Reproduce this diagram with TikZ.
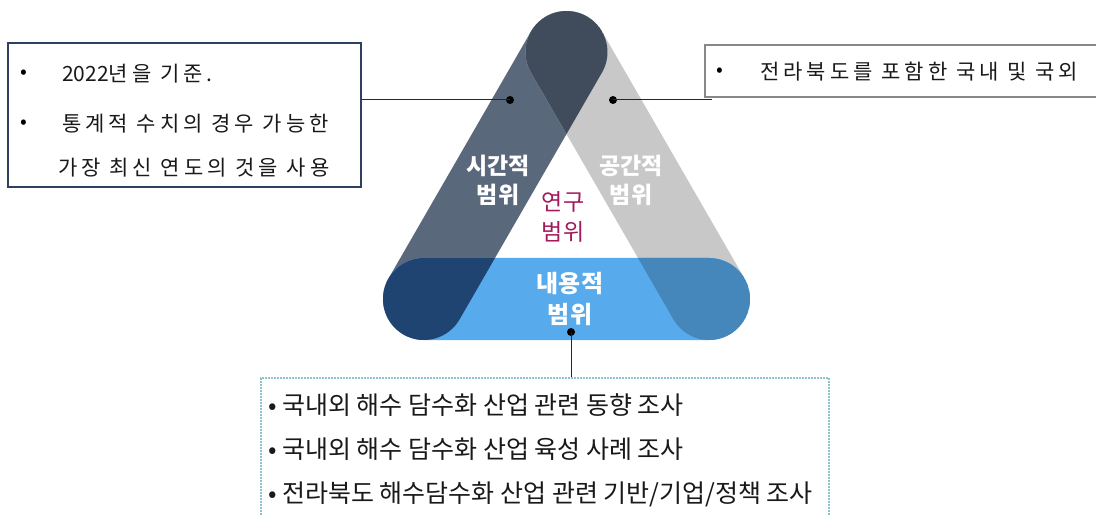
\documentclass[tikz,border=0pt]{standalone}
\usepackage{fontspec}
\newfontfamily\kr{Noto Sans CJK KR}
\newfontfamily\krw{Noto Sans CJK KR}[LetterSpace=19]
\usetikzlibrary{calc}
\definecolor{lbandc}{HTML}{5A687C}
\definecolor{rbandc}{HTML}{C8C8C8}
\definecolor{bbandc}{HTML}{57AAEB}
\definecolor{topc}{HTML}{404B5B}
\definecolor{blc}{HTML}{1F4471}
\definecolor{brc}{HTML}{4586BB}
\definecolor{yeongu}{HTML}{A3195B}
\definecolor{lboxc}{HTML}{2D4060}
\definecolor{rboxc}{HTML}{888888}
\definecolor{bboxc}{HTML}{8CC3CC}
\begin{document}
\begin{tikzpicture}[x=1pt,y=1pt,
  bandL/.style={insert path={($(BL)+(-30:41pt)$) -- ($(T)+(-30:41pt)$) arc[start angle=-30,end angle=150,radius=41pt] -- ($(BL)+(150:41pt)$) arc[start angle=150,end angle=330,radius=41pt] -- cycle}},
  bandR/.style={insert path={($(BR)+(30:41pt)$) -- ($(T)+(30:41pt)$) arc[start angle=30,end angle=210,radius=41pt] -- ($(BR)+(210:41pt)$) arc[start angle=210,end angle=390,radius=41pt] -- cycle}},
  bandB/.style={insert path={($(BL)+(0,-41pt)$) -- ($(BR)+(0,-41pt)$) arc[start angle=-90,end angle=90,radius=41pt] -- ($(BL)+(0,41pt)$) arc[start angle=90,end angle=270,radius=41pt] -- cycle}},
  dot/.style={circle,fill=black,inner sep=0pt,minimum size=8pt},
  conn/.style={draw=black!85,line width=1pt},
  wlabel/.style={text=white,align=center,font=\kr\bfseries\fontsize{23}{29}\selectfont,inner sep=0pt},
  boxtxt/.style={anchor=west,inner sep=0pt,font=\krw\fontsize{21}{24}\selectfont,text=black!90},
  bul/.style={inner sep=0pt,font=\kr\fontsize{20}{22}\selectfont},
  btxt/.style={anchor=west,inner sep=0pt,font=\kr\fontsize{25}{28}\selectfont,text=black!90}
]
\useasboundingbox (0,0) rectangle (1096,515);
\fill[white] (0,0) rectangle (1096,515);
\coordinate (T) at (566.5,463);
\coordinate (BL) at (424,216);
\coordinate (BR) at (709,216);
% bands
\fill[lbandc, bandL];
\fill[rbandc, bandR];
\fill[bbandc, bandB];
\begin{scope}
  \clip[bandL];
  \fill[topc, bandR];
\end{scope}
\begin{scope}
  \clip[bandB];
  \fill[blc, bandL];
\end{scope}
\begin{scope}
  \clip[bandB];
  \fill[brc, bandR];
\end{scope}
% labels
\node[wlabel] (sigan) at (498,334.5) {시간적\\범위};
\node[wlabel] (gonggan) at (631,334.5) {공간적\\범위};
\node[wlabel,font=\kr\bfseries\fontsize{24}{31}\selectfont] (naeyong) at (570,216.5) {내용적\\범위};
\node[align=center,inner sep=0pt,text=yeongu,font=\kr\fontsize{23}{30}\selectfont] (yeongu) at (563,298) {연구\\범위};
% dots
\node[dot] (ldot) at (510,415) {};
\node[dot] (rdot) at (613,415) {};
\node[dot] (bdot) at (571,183) {};
% boxes
\node[draw=lboxc,line width=2.2pt,minimum width=353pt,minimum height=144pt,inner sep=0pt] (lbox) at (184.5,400) {};
\node[draw=rboxc,line width=2pt,minimum width=400pt,minimum height=52pt,inner sep=0pt] (rbox) at (905,444) {};
\node[draw=bboxc,line width=1.3pt,dash pattern=on 2pt off 1pt,minimum width=568pt,minimum height=157pt,inner sep=0pt] (bbox) at (545,58.5) {};
% box texts
\node[bul] (lb1) at (24,441) {•};
\node[boxtxt] (lt1) at (62,441) {{\kr 2022}년을 기준.};
\node[bul] (lb2) at (24,391) {•};
\node[boxtxt] (lt2) at (62,391) {통계적 수치의 경우 가능한};
\node[boxtxt] (lt3) at (58,347) {가장 최신 연도의 것을 사용};
\node[bul] (rb1) at (720,443) {•};
\node[boxtxt] (rt1) at (760,443) {전라북도를 포함한 국내 및 국외};
\node[btxt] (bt1) at (268,110) {• 국내외 해수 담수화 산업 관련 동향 조사};
\node[btxt] (bt2) at (268,66) {• 국내외 해수 담수화 산업 육성 사례 조사};
\node[btxt] (bt3) at (268,21) {• 전라북도 해수담수화 산업 관련 기반/기업/정책 조사};
% connectors
\coordinate (rend) at (712,415);
\draw[conn] (ldot.center) -- (lbox.east |- ldot.center);
\draw[conn] (rdot.center) -- (rend);
\draw[conn] (bdot.center) -- (bdot.center |- bbox.north);
\end{tikzpicture}
\end{document}
